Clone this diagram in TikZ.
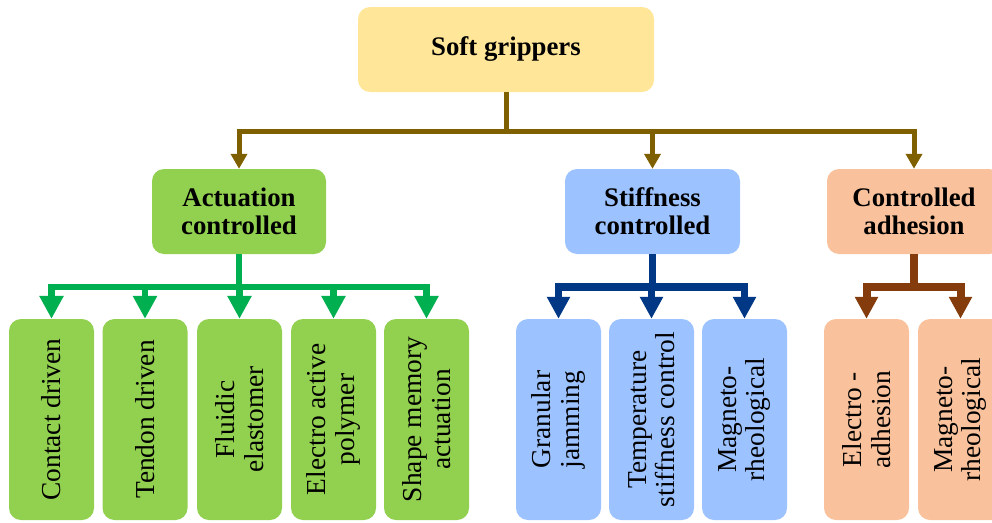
\documentclass[tikz,border=0pt]{standalone}
\usepackage{fontspec}
\setmainfont{Liberation Serif}
\usetikzlibrary{arrows.meta}
\definecolor{rootfill}{HTML}{FFE699}
\definecolor{gfill}{HTML}{92D050}
\definecolor{gline}{HTML}{00B050}
\definecolor{bfill}{HTML}{9CC2FF}
\definecolor{bline}{HTML}{003886}
\definecolor{ofill}{HTML}{FAC29C}
\definecolor{oline}{HTML}{843C0C}
\definecolor{tline}{HTML}{7F6000}
\tikzset{
  box/.style={rectangle, rounded corners=12pt, draw=none, inner sep=0pt, align=center},
  head/.style={box, minimum width=174pt, minimum height=85pt,
    font=\fontsize{26.8pt}{27.7pt}\selectfont\bfseries},
  leaf/.style={box, minimum width=85pt, minimum height=201pt},
  leaftext/.style={inner sep=0pt, align=center, rotate=90,
    font=\fontsize{27.4pt}{28.5pt}\selectfont},
  toparrow/.style={draw=tline, line width=5pt, line join=miter,
    -{Triangle[width=16pt,length=15pt]}, tline},
  garrow/.style={draw=gline, line width=6.5pt, line join=miter,
    -{Triangle[width=23pt,length=23pt]}, gline},
  barrow/.style={draw=bline, line width=7.5pt, line join=miter,
    -{Triangle[width=22pt,length=22pt]}, bline},
  oarrow/.style={draw=oline, line width=8pt, line join=miter,
    -{Triangle[width=22pt,length=22pt]}, oline},
}
\begin{document}
\begin{tikzpicture}[x=1pt,y=-1pt]
\useasboundingbox (0,0) rectangle (992,522);
\begin{scope}
\clip (0,0) rectangle (992,522);
% root
\node[box, fill=rootfill, minimum width=296pt, minimum height=85pt,
  font=\fontsize{26.8pt}{27.7pt}\selectfont\bfseries] (root) at (506,49.5) {\raisebox{-2pt}{Soft grippers}};
% level 1
\node[head, fill=gfill] (act) at (239,211.5) {Actuation\\controlled};
\node[head, fill=bfill, minimum width=175pt] (stf) at (652.5,211.5) {Stiffness\\controlled};
\node[head, fill=ofill] (adh) at (914,211.5) {Controlled\\adhesion};
% leaves
\node[leaf, fill=gfill] (g1) at (51.5,419.5) {};
\node[leaf, fill=gfill] (g2) at (145,419.5) {};
\node[leaf, fill=gfill] (g3) at (239.5,419.5) {};
\node[leaf, fill=gfill] (g4) at (333.5,419.5) {};
\node[leaf, fill=gfill] (g5) at (426.5,419.5) {};
\node[leaf, fill=bfill] (b1) at (558.5,419.5) {};
\node[leaf, fill=bfill] (b2) at (651.5,419.5) {};
\node[leaf, fill=bfill] (b3) at (744.5,419.5) {};
\node[leaf, fill=ofill] (o1) at (866.5,419.5) {};
\node[leaf, fill=ofill] (o2) at (960.5,419.5) {};
\node[leaftext] (tg1) at (g1) {Contact driven};
\node[leaftext] (tg2) at (g2) {Tendon driven};
\node[leaftext] (tg3) at (g3) {Fluidic\\elastomer};
\node[leaftext] (tg4) at (g4) {Electro active\\polymer};
\node[leaftext] (tg5) at (g5) {Shape memory\\actuation};
\node[leaftext] (tb1) at (b1) {Granular\\jamming};
\node[leaftext] (tb2) at (b2) {Temperature\\stiffness control};
\node[leaftext] (tb3) at (b3) {Magneto-\\rheological};
\node[leaftext] (to1) at (o1) {Electro -\\adhesion};
\node[leaftext] (to2) at (o2) {Magneto-\\rheological};
% bar coordinates
\coordinate (rb) at (506,131);
\coordinate (gb) at (239,287);
\coordinate (bb) at (652.5,287);
\coordinate (ob) at (914,287);
% top connectors
\draw[toparrow] (root.south) -- (rb) -| (act.north);
\draw[toparrow] (root.south) -- (rb) -| (stf.north);
\draw[toparrow] (root.south) -- (rb) -| (adh.north);
% second level connectors
\foreach \c in {g1,g2,g3,g4,g5}
  \draw[garrow] (act.south) -- (gb) -| (\c.north);
\foreach \c in {b1,b2,b3}
  \draw[barrow] (stf.south) -- (bb) -| (\c.north);
\foreach \c in {o1,o2}
  \draw[oarrow] (adh.south) -- (ob) -| (\c.north);
\end{scope}
\end{tikzpicture}
\end{document}
